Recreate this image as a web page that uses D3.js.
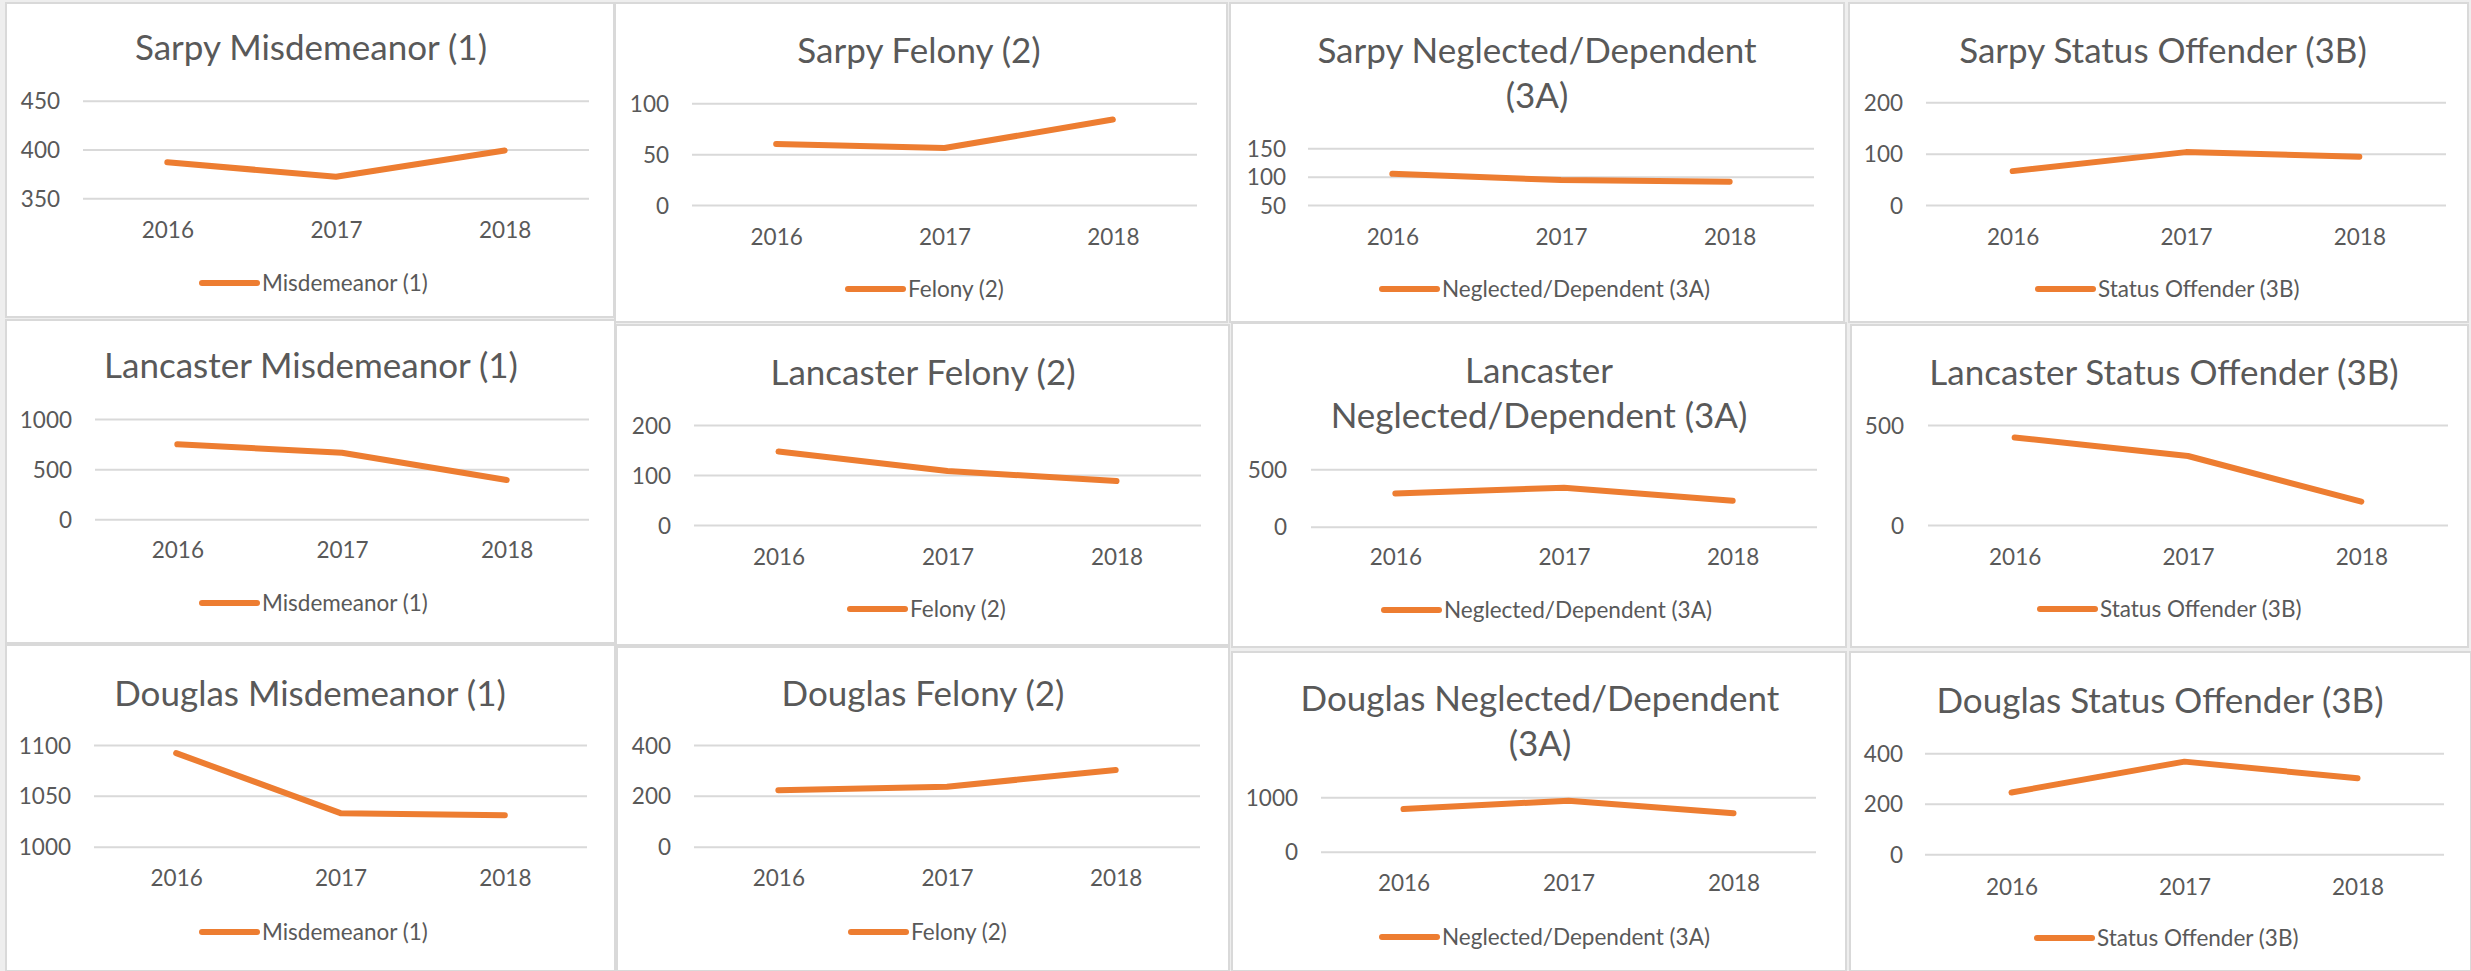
<!DOCTYPE html>
<html>
<head>
<meta charset="utf-8">
<script src="https://cdn.jsdelivr.net/npm/d3@7"></script>
<style>
  html, body { margin: 0; padding: 0; background: #eeeeee; overflow: hidden; }
  svg { display: block; }
  text { font-family: Lato, "Open Sans", sans-serif; fill: #595959; }
</style>
</head>
<body>
<svg id="chart" width="2471" height="971"></svg>
<script>
// Juvenile filings by county and offense type, 2016–2018
const years = ["2016", "2017", "2018"];
const counties = ["Sarpy", "Lancaster", "Douglas"];
const offenses = ["Misdemeanor (1)", "Felony (2)", "Neglected/Dependent (3A)", "Status Offender (3B)"];

// values per offense, in the order of `offenses`
const sarpyValues     = [[387, 372, 399], [60, 56, 84], [105, 94, 91], [66, 103, 94]];
const lancasterValues = [[748, 664, 392], [147, 108, 88], [290, 340, 226], [438, 345, 117]];
const douglasValues   = [[1092, 1033, 1031], [222, 236, 302], [785, 938, 706], [245, 367, 301]];

// value-axis tick labels per chart
const sarpyTicks     = [[350, 400, 450], [0, 50, 100], [50, 100, 150], [0, 100, 200]];
const lancasterTicks = [[0, 500, 1000], [0, 100, 200], [0, 500], [0, 500]];
const douglasTicks   = [[1000, 1050, 1100], [0, 200, 400], [0, 1000], [0, 200, 400]];

// chart titles, one entry per line
const sarpyTitles     = [["Sarpy Misdemeanor (1)"], ["Sarpy Felony (2)"], ["Sarpy Neglected/Dependent", "(3A)"], ["Sarpy Status Offender (3B)"]];
const lancasterTitles = [["Lancaster Misdemeanor (1)"], ["Lancaster Felony (2)"], ["Lancaster", "Neglected/Dependent (3A)"], ["Lancaster Status Offender (3B)"]];
const douglasTitles   = [["Douglas Misdemeanor (1)"], ["Douglas Felony (2)"], ["Douglas Neglected/Dependent", "(3A)"], ["Douglas Status Offender (3B)"]];

// Placement of each chart card on the sheet (row-major)
// frame: [x0,y0,x1,y1]; title: [cx,cy]; plot: [left,right,top,bottom];
// tickRight: right edge of value labels; xLabelY: centre of year labels; legend: [x,y]
const layout = [
  { frame: [6, 3, 614, 317],     title: [311, 47],   plot: [83, 589, 100.7, 198.3],   tickRight: 60,   xLabelY: 230,   legend: [202, 283] },
  { frame: [615, 3, 1227, 322],  title: [919, 50],   plot: [692, 1197, 103.3, 205],   tickRight: 669,  xLabelY: 236.7, legend: [848, 289] },
  { frame: [1230, 3, 1844, 322], title: [1537, 50],  plot: [1308, 1814, 148.3, 205],  tickRight: 1286, xLabelY: 236.7, legend: [1382, 289] },
  { frame: [1849, 3, 2468, 322], title: [2163, 50],  plot: [1926, 2446, 102.3, 205],  tickRight: 1903, xLabelY: 236.7, legend: [2038, 289] },
  { frame: [6, 320, 615, 643],   title: [311, 365],  plot: [95, 589, 419, 519.3],     tickRight: 72,   xLabelY: 550,   legend: [202, 603] },
  { frame: [616, 325, 1229, 645], title: [923, 372], plot: [694, 1201, 425, 525],     tickRight: 671,  xLabelY: 556.7, legend: [850, 609] },
  { frame: [1232, 323, 1846, 647], title: [1539, 370], plot: [1311, 1817, 469.3, 526.7], tickRight: 1287, xLabelY: 556.7, legend: [1384, 610] },
  { frame: [1851, 325, 2468, 647], title: [2164, 372], plot: [1928, 2448, 425, 525],  tickRight: 1904, xLabelY: 556.7, legend: [2040, 609] },
  { frame: [6, 645, 615, 971],   title: [310, 693],  plot: [94, 587, 745, 846.7],     tickRight: 71,   xLabelY: 878,   legend: [202, 932] },
  { frame: [617, 647, 1229, 971], title: [923, 693], plot: [694, 1200, 745, 846.7],   tickRight: 671,  xLabelY: 878,   legend: [851, 932] },
  { frame: [1232, 652, 1846, 971], title: [1540, 698], plot: [1321, 1816, 797.3, 851.7], tickRight: 1298, xLabelY: 883, legend: [1382, 937] },
  { frame: [1850, 652, 2471, 971], title: [2160, 700], plot: [1925, 2444, 753.3, 854.3], tickRight: 1903, xLabelY: 887, legend: [2037, 938] }
];

const style = {
  line: "#ED7D31",
  lineWidth: 6,
  grid: "#d9d9d9",
  border: "#d9d9d9",
  titleSize: 35,
  titleLineGap: 45,
  labelSize: 22.5,
  legendLength: 55
};

const valuesByCounty = [sarpyValues, lancasterValues, douglasValues];
const ticksByCounty = [sarpyTicks, lancasterTicks, douglasTicks];
const titlesByCounty = [sarpyTitles, lancasterTitles, douglasTitles];

// flatten into one record per chart
const charts = [];
counties.forEach((county, ci) => {
  offenses.forEach((offense, oi) => {
    charts.push({
      county,
      offense,
      values: valuesByCounty[ci][oi],
      ticks: ticksByCounty[ci][oi],
      title: titlesByCounty[ci][oi],
      box: layout[ci * offenses.length + oi]
    });
  });
});

const svg = d3.select("#chart");

charts.forEach(c => {
  const b = c.box;
  const [left, right, top, bottom] = b.plot;
  const g = svg.append("g");

  // card
  g.append("rect")
    .attr("x", b.frame[0]).attr("y", b.frame[1])
    .attr("width", b.frame[2] - b.frame[0]).attr("height", b.frame[3] - b.frame[1])
    .attr("fill", "#ffffff")
    .attr("stroke", style.border)
    .attr("stroke-width", 2);

  // title
  c.title.forEach((t, i) => {
    g.append("text")
      .attr("x", b.title[0])
      .attr("y", b.title[1] + i * style.titleLineGap)
      .attr("dy", "0.36em")
      .attr("text-anchor", "middle")
      .style("font-size", style.titleSize + "px")
      .text(t);
  });

  const x = d3.scalePoint().domain(years).range([left, right]).padding(0.5);
  const y = d3.scaleLinear().domain(d3.extent(c.ticks)).range([bottom, top]);

  // value axis with gridlines
  const yAxis = g.append("g")
    .attr("transform", `translate(${left},0)`)
    .call(d3.axisLeft(y).tickValues(c.ticks).tickSize(-(right - left)).tickPadding(left - b.tickRight).tickFormat(d3.format("d")));
  yAxis.select(".domain").remove();
  yAxis.selectAll(".tick line").attr("stroke", style.grid).attr("stroke-width", 2);
  yAxis.selectAll(".tick text")
    .attr("dy", "0.36em")
    .style("font-size", style.labelSize + "px")
    .style("font-family", "Lato, sans-serif")
    .attr("fill", "#595959");

  // category axis (labels only)
  const xAxis = g.append("g")
    .attr("transform", `translate(0,${b.xLabelY})`)
    .call(d3.axisBottom(x).tickSize(0).tickPadding(0));
  xAxis.select(".domain").remove();
  xAxis.selectAll(".tick text")
    .attr("y", 0)
    .attr("dy", "0.36em")
    .style("font-size", style.labelSize + "px")
    .style("font-family", "Lato, sans-serif")
    .attr("fill", "#595959");

  // series line
  const line = d3.line().x((d, i) => x(years[i])).y(d => y(d));
  g.append("path")
    .datum(c.values)
    .attr("d", line)
    .attr("fill", "none")
    .attr("stroke", style.line)
    .attr("stroke-width", style.lineWidth)
    .attr("stroke-linecap", "round")
    .attr("stroke-linejoin", "round");

  // legend
  const [lx, ly] = b.legend;
  g.append("line")
    .attr("x1", lx).attr("x2", lx + style.legendLength)
    .attr("y1", ly).attr("y2", ly)
    .attr("stroke", style.line)
    .attr("stroke-width", style.lineWidth)
    .attr("stroke-linecap", "round");
  g.append("text")
    .attr("x", lx + style.legendLength + 5)
    .attr("y", ly)
    .attr("dy", "0.36em")
    .style("font-size", style.labelSize + "px")
    .text(c.offense);
});
</script>
</body>
</html>
